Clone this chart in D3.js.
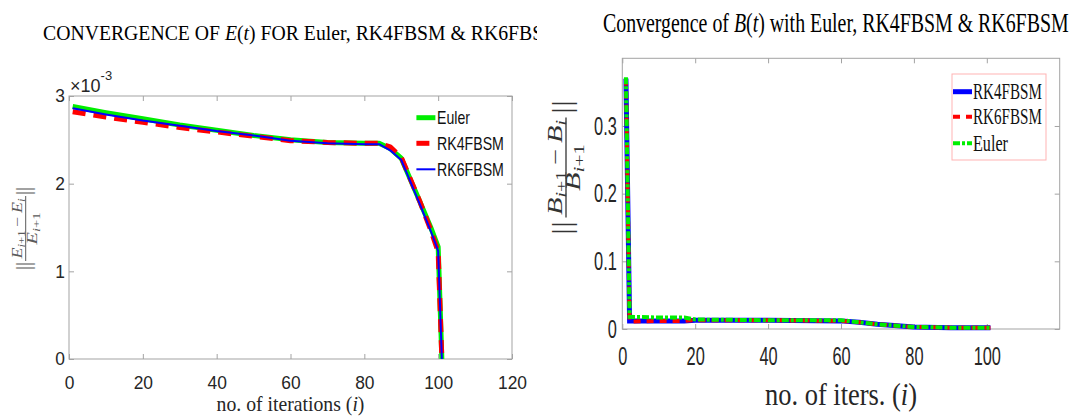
<!DOCTYPE html>
<html>
<head>
<meta charset="utf-8">
<script src="https://cdn.jsdelivr.net/npm/d3@7"></script>
<style>
  html, body { margin: 0; padding: 0; background: #fff; }
  svg { display: block; }
</style>
</head>
<body>
<div id="chart"></div>
<script>
'use strict';

// left panel, E(t), values in units of 1e-3
var eIters = [1, 10, 20, 30, 40, 50, 60, 70, 80, 84, 87, 90, 95, 98, 100, 101];
var eEuler = [2.88, 2.81, 2.74, 2.67, 2.61, 2.55, 2.50, 2.47, 2.46, 2.46, 2.40, 2.29, 1.80, 1.50, 1.28, 0];
var eRK4 = [2.82, 2.76, 2.70, 2.64, 2.59, 2.54, 2.49, 2.47, 2.46, 2.46, 2.42, 2.30, 1.80, 1.47, 1.22, 0];
var eRK6 = [2.86, 2.79, 2.72, 2.66, 2.60, 2.55, 2.49, 2.46, 2.45, 2.45, 2.38, 2.27, 1.77, 1.46, 1.23, 0];
var eXTicks = [0, 20, 40, 60, 80, 100, 120];
var eYTicks = [0, 1, 2, 3];

// right panel, B(t)
var bIters = [1, 2, 10, 17, 20, 40, 60, 65, 70, 80, 90, 101];
var bRK4 = [0.370, 0.012, 0.012, 0.012, 0.013, 0.013, 0.012, 0.010, 0.007, 0.003, 0.002, 0.002];
var bRK6 = [0.370, 0.011, 0.012, 0.012, 0.013, 0.013, 0.012, 0.010, 0.007, 0.003, 0.002, 0.002];
var bEuler = [0.372, 0.018, 0.017, 0.017, 0.014, 0.013, 0.013, 0.010, 0.007, 0.003, 0.002, 0.002];
var bXTicks = [0, 20, 40, 60, 80, 100];
var bYTicks = [0, 0.1, 0.2, 0.3];

var SANS = '"Liberation Sans", Arial, sans-serif';
var SERIF = '"Liberation Serif", "Times New Roman", serif';
var AXIS = '#a3a3a3';

var svg = d3.select('#chart').append('svg')
  .attr('width', 1078)
  .attr('height', 418);

svg.append('rect').attr('width', 1078).attr('height', 418).attr('fill', '#fff');

// squeeze a text horizontally so that it is `width` wide, keeping its anchor at (x, y)
function fit(t, x, y, width) {
  var n = t.node().getComputedTextLength();
  var s = n > 0 ? width / n : 1;
  t.attr('x', 0).attr('y', 0)
    .attr('transform', 'translate(' + x + ',' + y + ') scale(' + s + ',1)');
  return t;
}

// box with inward ticks on all four sides, labels bottom/left only
function drawAxes(g, x, y, o) {
  var w = x.range()[1], h = y.range()[0];
  var bottom = g.append('g').attr('transform', 'translate(0,' + h + ')')
    .call(d3.axisBottom(x).tickValues(o.xTicks).tickSize(-5).tickPadding(o.xPad).tickFormat(d3.format('')));
  g.append('g').call(d3.axisTop(x).tickValues(o.xTicks).tickSize(-5).tickFormat(''));
  var left = g.append('g')
    .call(d3.axisLeft(y).tickValues(o.yTicks).tickSize(-5).tickPadding(o.yPad).tickFormat(d3.format('')));
  g.append('g').attr('transform', 'translate(' + w + ',0)')
    .call(d3.axisRight(y).tickValues(o.yTicks).tickSize(-5).tickFormat(''));

  g.selectAll('.domain').remove();
  g.selectAll('.tick line').attr('stroke', AXIS);
  g.append('rect')
    .attr('width', w).attr('height', h)
    .attr('fill', 'none').attr('stroke', AXIS).attr('stroke-width', 1);

  [bottom, left].forEach(function(a) {
    a.selectAll('text')
      .attr('font-family', SANS)
      .attr('font-size', o.fontSize)
      .attr('fill', '#262626')
      .attr('transform', 'scale(' + o.sx + ',1)');
  });
  left.selectAll('text').attr('x', -o.yPad / o.sx);
}

// rotated || num / den || label
function fracLabel(parent, cx, cy, o) {
  var g = parent.append('g')
    .attr('transform', 'translate(' + cx + ',' + cy + ') rotate(-90)')
    .attr('fill', o.color)
    .attr('font-family', SERIF);
  var half = o.len / 2;
  [-half, half - o.barsW].forEach(function(u) {
    var b = g.append('text').attr('font-size', o.barsSize).text('||');
    fit(b, u, o.barsY, o.barsW);
  });
  g.append('line')
    .attr('x1', -o.fracW / 2).attr('x2', o.fracW / 2)
    .attr('y1', 0).attr('y2', 0)
    .attr('stroke', o.color).attr('stroke-width', o.barStroke);

  var num = g.append('text').attr('text-anchor', 'middle').attr('font-size', o.size);
  num.append('tspan').attr('font-style', 'italic').text(o.sym);
  num.append('tspan').attr('font-size', o.sub).attr('font-style', 'italic').attr('dy', o.subDy).text('i');
  num.append('tspan').attr('font-size', o.sub).text('+1');
  num.append('tspan').attr('dy', -o.subDy).text('\u2009\u2212\u2009');
  num.append('tspan').attr('font-style', 'italic').text(o.sym);
  num.append('tspan').attr('font-size', o.sub).attr('font-style', 'italic').attr('dy', o.subDy).text('i');
  fit(num, 0, o.numY, o.numW);

  var den = g.append('text').attr('text-anchor', 'middle').attr('font-size', o.size);
  den.append('tspan').attr('font-style', 'italic').text(o.sym);
  den.append('tspan').attr('font-size', o.sub).attr('font-style', 'italic').attr('dy', o.subDy).text('i');
  den.append('tspan').attr('font-size', o.sub).text('+1');
  fit(den, 0, o.denY, o.denW);
}

function legendLine(g, x1, x2, yy, st) {
  g.append('line')
    .attr('x1', x1).attr('x2', x2).attr('y1', yy).attr('y2', yy)
    .attr('stroke', st.color).attr('stroke-width', st.width)
    .attr('stroke-dasharray', st.dash || null);
}

// ---------------- left panel ----------------
(function() {
  var m = { left: 69, top: 96 }, w = 443, h = 263;
  var x = d3.scaleLinear().domain([0, 120]).range([0, w]);
  var y = d3.scaleLinear().domain([0, 3]).range([h, 0]);

  svg.append('clipPath').attr('id', 'leftClip')
    .append('rect').attr('x', 0).attr('y', 0).attr('width', 537).attr('height', 418);

  var tg = svg.append('g').attr('clip-path', 'url(#leftClip)');
  var title = tg.append('text')
    .attr('font-family', SERIF).attr('font-size', 21.5);
  title.append('tspan').text('CONVERGENCE OF ');
  title.append('tspan').attr('font-style', 'italic').text('E');
  title.append('tspan').text('(');
  title.append('tspan').attr('font-style', 'italic').text('t');
  title.append('tspan').text(') FOR Euler, RK4FBSM & RK6FBSM');
  fit(title, 43, 39.5, 518);

  var g = svg.append('g').attr('transform', 'translate(' + m.left + ',' + m.top + ')');
  drawAxes(g, x, y, { xTicks: eXTicks, yTicks: eYTicks, xPad: 17, yPad: 4, fontSize: 18.5, sx: 0.94 });

  var exp = svg.append('text').attr('x', 70).attr('y', 92)
    .attr('font-family', SANS).attr('font-size', 18).attr('fill', '#262626');
  exp.append('tspan').text('\u00d710');
  exp.append('tspan').attr('font-size', 13).attr('dy', -12).text('-3');

  var series = [
    { name: 'Euler', vals: eEuler, color: '#00ee00', width: 5, tl: 33 },
    { name: 'RK4FBSM', vals: eRK4, color: '#ff0000', width: 5, dash: '13,8', tl: 67 },
    { name: 'RK6FBSM', vals: eRK6, color: '#0000ff', width: 2, tl: 67 }
  ];
  series.forEach(function(s) {
    var line = d3.line()
      .x(function(d) { return x(d[0]); })
      .y(function(d) { return y(d[1]); });
    g.append('path')
      .attr('d', line(d3.zip(eIters, s.vals)))
      .attr('fill', 'none')
      .attr('stroke', s.color)
      .attr('stroke-width', s.width)
      .attr('stroke-dasharray', s.dash || null)
      .attr('stroke-linejoin', 'round');
  });

  var legY = [117.7, 143.3, 169.3];
  series.forEach(function(s, i) {
    legendLine(svg, 416.4, 435.4, legY[i], s);
    var t = svg.append('text')
      .attr('font-family', SANS).attr('font-size', 18).attr('fill', '#111')
      .text(s.name);
    fit(t, 437, legY[i] + 6.5, s.tl);
  });

  var xl = svg.append('text')
    .attr('text-anchor', 'middle')
    .attr('font-family', SERIF).attr('font-size', 20.5).attr('fill', '#262626');
  xl.append('tspan').text('no. of iterations (');
  xl.append('tspan').attr('font-style', 'italic').text('i');
  xl.append('tspan').text(')');
  fit(xl, 290.5, 410.5, 148);

  fracLabel(svg, 25.7, 228.5, {
    color: '#5a5a5a', sym: 'E', len: 83, barsW: 8, barsSize: 20, barsY: 4.7,
    fracW: 65, barStroke: 1, size: 14, sub: 10, subDy: 3,
    numY: -3.5, numW: 60, denY: 11, denW: 32
  });
})();

// ---------------- right panel ----------------
(function() {
  var m = { left: 622.3, top: 58.3 }, w = 437.4, h = 270.7;
  var x = d3.scaleLinear().domain([0, 120]).range([0, w]);
  var y = d3.scaleLinear().domain([0, 0.4]).range([h, 0]);

  var title = svg.append('text')
    .attr('font-family', SERIF).attr('font-size', 27);
  title.append('tspan').text('Convergence of ');
  title.append('tspan').attr('font-style', 'italic').text('B');
  title.append('tspan').text('(');
  title.append('tspan').attr('font-style', 'italic').text('t');
  title.append('tspan').text(') with Euler, RK4FBSM & RK6FBSM');
  fit(title, 603, 31.7, 466);

  var g = svg.append('g').attr('transform', 'translate(' + m.left + ',' + m.top + ')');
  drawAxes(g, x, y, { xTicks: bXTicks, yTicks: bYTicks, xPad: 17.5, yPad: 5.5, fontSize: 26, sx: 0.63 });

  var series = [
    { name: 'RK4FBSM', vals: bRK4, color: '#0000ff', width: 5, tl: 69 },
    { name: 'RK6FBSM', vals: bRK6, color: '#ff0000', width: 4, dash: '7,6', tl: 69 },
    { name: 'Euler', vals: bEuler, color: '#00ee00', width: 4, dash: '7,2,3,2', tl: 35 }
  ];
  series.forEach(function(s) {
    var line = d3.line()
      .x(function(d) { return x(d[0]); })
      .y(function(d) { return y(d[1]); });
    g.append('path')
      .attr('d', line(d3.zip(bIters, s.vals)))
      .attr('fill', 'none')
      .attr('stroke', s.color)
      .attr('stroke-width', s.width)
      .attr('stroke-dasharray', s.dash || null);
  });

  svg.append('rect')
    .attr('x', 952).attr('y', 74).attr('width', 94).attr('height', 86)
    .attr('fill', '#fff').attr('stroke', '#ffb3b3').attr('stroke-width', 1);
  var legY = [91.7, 116.7, 143.3];
  series.forEach(function(s, i) {
    legendLine(svg, 953, 972, legY[i], s);
    var t = svg.append('text')
      .attr('font-family', SERIF).attr('font-size', 23).attr('fill', '#111')
      .text(s.name);
    fit(t, 973, legY[i] + 7.6, s.tl);
  });

  var xl = svg.append('text')
    .attr('text-anchor', 'middle')
    .attr('font-family', SERIF).attr('font-size', 31).attr('fill', '#262626');
  xl.append('tspan').text('no. of iters. (');
  xl.append('tspan').attr('font-style', 'italic').text('i');
  xl.append('tspan').text(')');
  fit(xl, 841, 405, 152);

  fracLabel(svg, 566, 167.5, {
    color: '#333', sym: 'B', len: 135, barsW: 14, barsSize: 27, barsY: 5,
    fracW: 100, barStroke: 1.3, size: 20, sub: 14, subDy: 4,
    numY: -4, numW: 95, denY: 14, denW: 47
  });
})();
</script>
</body>
</html>
